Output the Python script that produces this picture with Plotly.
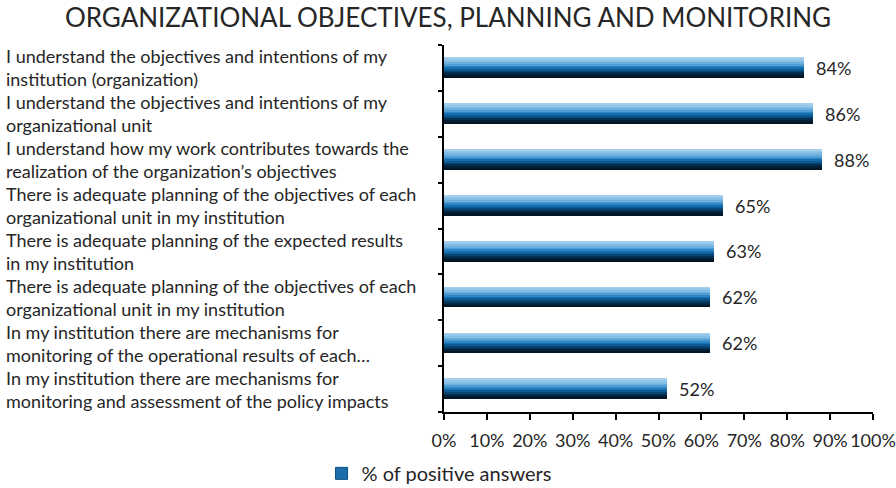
import plotly.graph_objects as go

categories = [
    "I understand the objectives and intentions of my<br>institution (organization)",
    "I understand the objectives and intentions of my<br>organizational unit",
    "I understand how my work contributes towards the<br>realization of the organization’s objectives",
    "There is adequate planning of the objectives of each<br>organizational unit in my institution",
    "There is adequate planning of the expected results<br>in my institution",
    "There is adequate planning of the objectives of each<br>organizational unit in my institution",
    "In my institution there are mechanisms for<br>monitoring of the operational results of each…",
    "In my institution there are mechanisms for<br>monitoring and assessment of the policy impacts",
]
values = [84, 86, 88, 65, 63, 62, 62, 52]
value_labels = ["84%", "86%", "88%", "65%", "63%", "62%", "62%", "52%"]
series_name = "% of positive answers"
x_ticks = [0, 10, 20, 30, 40, 50, 60, 70, 80, 90, 100]
x_ticktext = [f"{t}%" for t in x_ticks]

FONT = "Lato"
TXT = "#262626"
positions = list(range(len(categories)))

# vertical gradient: top light blue -> bottom dark navy
grad = ["#a3cfec", "#94c7e9", "#82bde4", "#6cb0de", "#4f9dd3", "#2f86c4",
        "#156fae", "#0b5a93", "#074471", "#042f4f", "#021f37", "#011626"]
bar_w = 0.44
strip = bar_w / len(grad)

fig = go.Figure()
for k, c in enumerate(grad):
    fig.add_trace(go.Bar(
        x=values, y=positions, orientation="h",
        width=[strip * 1.05] * len(values),
        offset=[-bar_w / 2 + k * strip] * len(values),
        marker=dict(color=c, line=dict(width=0)),
        showlegend=False, hoverinfo="skip",
    ))

# legend entry
fig.add_trace(go.Bar(
    x=[None], y=[None], orientation="h", name=series_name,
    marker=dict(color="#1c6eab", line=dict(color="#0a4f85", width=1)),
    showlegend=True,
))

# value labels
for v, p, t in zip(values, positions, value_labels):
    fig.add_annotation(
        xref="x", yref="y", x=v, y=p, text=t, xanchor="left", yanchor="middle",
        xshift=10, showarrow=False,
        font=dict(family=FONT, size=18, color=TXT),
    )

for i, cat in enumerate(categories):
    fig.add_annotation(
        xref="paper", yref="y", x=-1.025, y=i, text=cat,
        xanchor="left", yanchor="middle", align="left", showarrow=False,
        font=dict(family=FONT, size=18, color=TXT),
    )

fig.update_layout(
    width=896, height=488,
    margin=dict(l=444, r=23, t=45, b=76, autoexpand=False),
    paper_bgcolor="white", plot_bgcolor="white",
    bargap=0, barmode="overlay",
    title=dict(text="ORGANIZATIONAL OBJECTIVES, PLANNING AND MONITORING",
               x=0.5, xref="container", xanchor="center", y=0.963, yanchor="middle",
               font=dict(family=FONT, size=26, color=TXT)),
    font=dict(family=FONT, color=TXT),
    legend=dict(orientation="h", xref="container", yref="container",
                x=0.49, xanchor="center", y=0.03, yanchor="middle",
                bgcolor="rgba(0,0,0,0)",
                font=dict(family=FONT, size=20, color=TXT),
                itemwidth=30),
)
fig.update_xaxes(range=[0, 100], tickvals=x_ticks, ticktext=x_ticktext,
                 showgrid=False, zeroline=False, showline=True, linecolor="black", linewidth=2,
                 ticks="outside", ticklen=6, tickcolor="black", tickwidth=2,
                 ticklabelstandoff=5,
                 tickfont=dict(family=FONT, size=18, color=TXT))
fig.update_yaxes(range=[len(categories) - 0.5, -0.5],
                 tickvals=[p - 0.5 for p in positions] + [len(categories) - 0.5],
                 ticktext=[""] * (len(categories) + 1),
                 showgrid=False, zeroline=False, showline=True, linecolor="black", linewidth=2,
                 ticks="outside", ticklen=4, tickcolor="black", tickwidth=2)

fig.write_html("out.html", config={"displayModeBar": False},
               post_script="document.body.style.margin='0';")
